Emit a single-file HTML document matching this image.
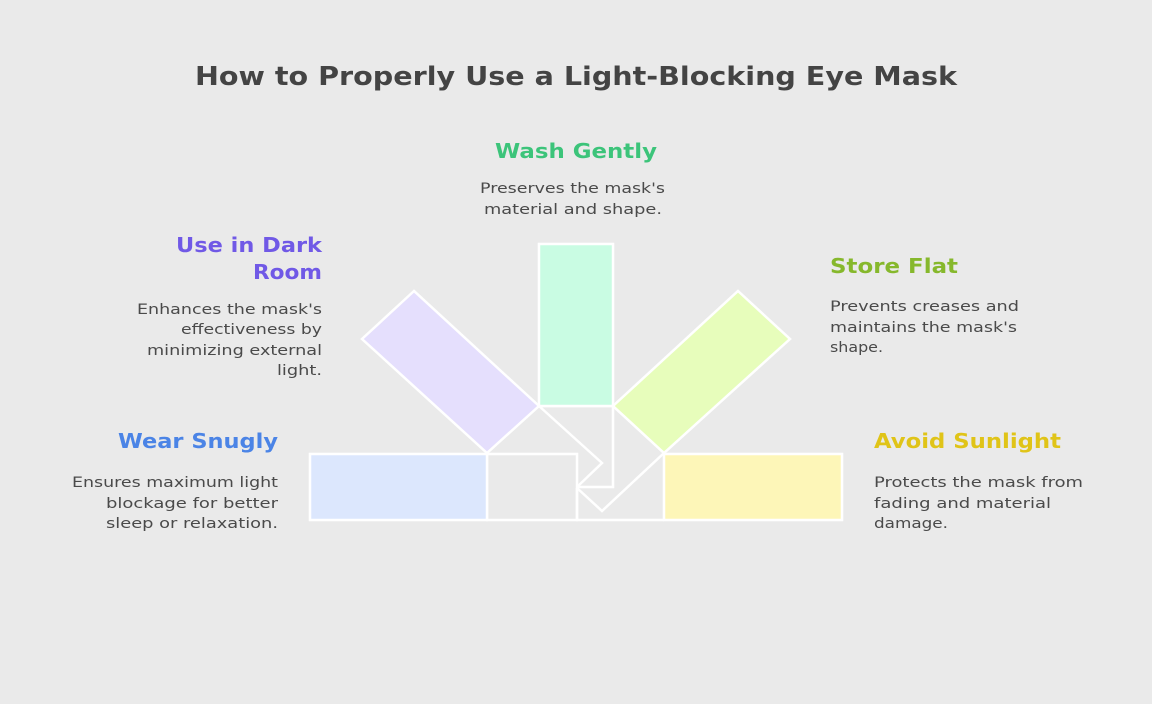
<!DOCTYPE html>
<html><head><meta charset="utf-8"><style>
html,body{margin:0;padding:0;background:#eaeaea;}
svg{display:block;}
text{font-family:"DejaVu Sans","Liberation Sans",sans-serif;}
.h{font-size:20px;font-weight:bold;}
.b{font-size:14.5px;fill:#4a4a4a;}
</style></head><body>
<svg width="1152" height="704" viewBox="0 0 1152 704">
<rect width="1152" height="704" fill="#eaeaea"/>
<text x="195" y="85" textLength="762" lengthAdjust="spacingAndGlyphs" style="font-size:26px;font-weight:bold;fill:#444">How to Properly Use a Light-Blocking Eye Mask</text>
<g stroke="#fff" stroke-width="2.5" stroke-linejoin="miter">
<polygon points="539,406 602,463 577,487 613,487 613,406" fill="#eaeaea"/>
<polyline points="613,406 664,453 602,511 577,488" fill="none"/>
<rect x="487" y="454" width="90" height="66" fill="#eaeaea"/>
<polyline points="577,488 577,520 664,520" fill="none"/>
<rect x="310" y="454" width="177" height="66" fill="#dce7fd"/>
<rect x="664" y="454" width="178" height="66" fill="#fdf6b8"/>
<rect x="539" y="244" width="74" height="162" fill="#c9fce3"/>
<polygon points="414,291 362,339 487,453 539,406" fill="#e5dffd"/>
<polygon points="738,291 790,339 664,453 613,406" fill="#e7fdbb"/>
</g>
<g lengthAdjust="spacingAndGlyphs">
<text class="h" x="495" y="158" textLength="162" lengthAdjust="spacingAndGlyphs" fill="#3cc47a">Wash Gently</text>
<text class="b" x="480" y="193" textLength="185" lengthAdjust="spacingAndGlyphs">Preserves the mask's</text>
<text class="b" x="484" y="214" textLength="178" lengthAdjust="spacingAndGlyphs">material and shape.</text>
<text class="h" x="176" y="252" textLength="146" lengthAdjust="spacingAndGlyphs" fill="#7059e6">Use in Dark</text>
<text class="h" x="253" y="279" textLength="69" lengthAdjust="spacingAndGlyphs" fill="#7059e6">Room</text>
<text class="b" x="137" y="314" textLength="185" lengthAdjust="spacingAndGlyphs">Enhances the mask's</text>
<text class="b" x="181" y="334" textLength="141" lengthAdjust="spacingAndGlyphs">effectiveness by</text>
<text class="b" x="147" y="355" textLength="175" lengthAdjust="spacingAndGlyphs">minimizing external</text>
<text class="b" x="277" y="375" textLength="45" lengthAdjust="spacingAndGlyphs">light.</text>
<text class="h" x="118" y="448" textLength="160" lengthAdjust="spacingAndGlyphs" fill="#4b84e6">Wear Snugly</text>
<text class="b" x="72" y="487" textLength="206" lengthAdjust="spacingAndGlyphs">Ensures maximum light</text>
<text class="b" x="106" y="508" textLength="172" lengthAdjust="spacingAndGlyphs">blockage for better</text>
<text class="b" x="106" y="528" textLength="172" lengthAdjust="spacingAndGlyphs">sleep or relaxation.</text>
<text class="h" x="830" y="273" textLength="128" lengthAdjust="spacingAndGlyphs" fill="#86b82c">Store Flat</text>
<text class="b" x="830" y="311" textLength="189" lengthAdjust="spacingAndGlyphs">Prevents creases and</text>
<text class="b" x="830" y="332" textLength="187" lengthAdjust="spacingAndGlyphs">maintains the mask's</text>
<text class="b" x="830" y="352" textLength="53" lengthAdjust="spacingAndGlyphs">shape.</text>
<text class="h" x="874" y="448" textLength="187" lengthAdjust="spacingAndGlyphs" fill="#e0c418">Avoid Sunlight</text>
<text class="b" x="874" y="487" textLength="209" lengthAdjust="spacingAndGlyphs">Protects the mask from</text>
<text class="b" x="874" y="508" textLength="177" lengthAdjust="spacingAndGlyphs">fading and material</text>
<text class="b" x="874" y="528" textLength="74" lengthAdjust="spacingAndGlyphs">damage.</text>
</g>
</svg>
</body></html>
